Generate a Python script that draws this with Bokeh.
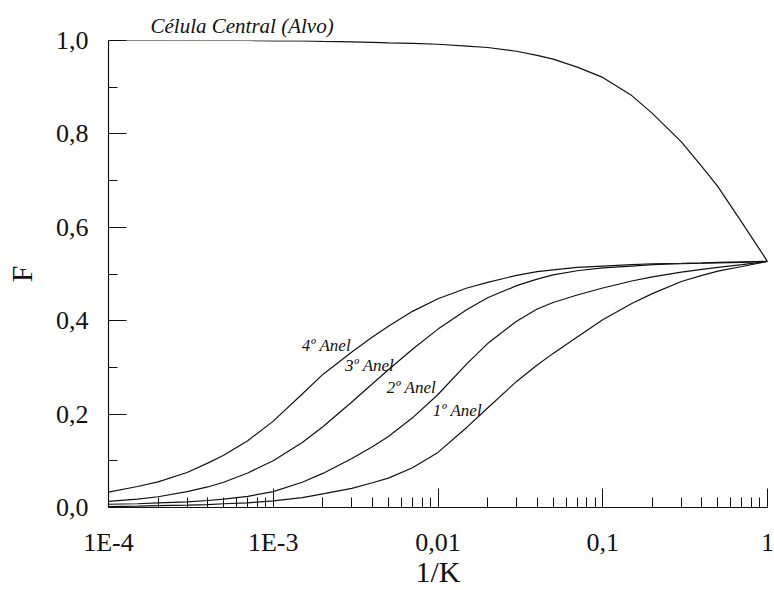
from bokeh.plotting import figure
from bokeh.models import FixedTicker, CustomJSTickFormatter, ColumnDataSource
from bokeh.core.properties import value
from bokeh.embed import file_html
from bokeh.resources import INLINE

# ---- data ----
inv_k = [1e-4, 1.5e-4, 2e-4, 3e-4, 4e-4, 5e-4, 7e-4,
         1e-3, 1.5e-3, 2e-3, 3e-3, 4e-3, 5e-3, 7e-3,
         1e-2, 1.5e-2, 2e-2, 3e-2, 4e-2, 5e-2, 7e-2,
         0.1, 0.15, 0.2, 0.3, 0.4, 0.5, 0.7, 1.0]

f_central = [1.000, 1.000, 1.000, 1.000, 1.000, 1.000, 1.000,
             0.999, 0.999, 0.998, 0.997, 0.996, 0.995, 0.994,
             0.992, 0.988, 0.985, 0.977, 0.968, 0.960, 0.943,
             0.921, 0.882, 0.844, 0.783, 0.730, 0.687, 0.610, 0.527]

f_ring1 = [0.002, 0.003, 0.004, 0.005, 0.006, 0.008, 0.010,
           0.014, 0.021, 0.029, 0.041, 0.053, 0.063, 0.085,
           0.118, 0.172, 0.213, 0.270, 0.305, 0.330, 0.365,
           0.402, 0.437, 0.458, 0.484, 0.497, 0.506, 0.516, 0.527]

f_ring2 = [0.007, 0.008, 0.010, 0.012, 0.015, 0.018, 0.024,
           0.034, 0.054, 0.073, 0.105, 0.130, 0.152, 0.192,
           0.242, 0.308, 0.351, 0.399, 0.425, 0.439, 0.455,
           0.470, 0.485, 0.494, 0.504, 0.510, 0.514, 0.520, 0.527]

f_ring3 = [0.013, 0.018, 0.023, 0.034, 0.044, 0.054, 0.074,
           0.100, 0.139, 0.173, 0.226, 0.265, 0.295, 0.339,
           0.382, 0.424, 0.449, 0.475, 0.489, 0.498, 0.507,
           0.513, 0.517, 0.520, 0.522, 0.523, 0.524, 0.525, 0.527]

f_ring4 = [0.033, 0.045, 0.055, 0.075, 0.095, 0.112, 0.143,
           0.185, 0.243, 0.285, 0.333, 0.365, 0.388, 0.420,
           0.447, 0.470, 0.482, 0.497, 0.505, 0.509, 0.514,
           0.517, 0.520, 0.522, 0.523, 0.524, 0.525, 0.526, 0.527]

ring_labels = ["1º Anel", "2º Anel", "3º Anel", "4º Anel"]
ring_label_x = [0.0131, 0.0069, 0.00384, 0.0021]
ring_label_y = [0.207, 0.256, 0.305, 0.346]

central_label = "Célula Central (Alvo)"

x_ticks = [1e-4, 1e-3, 1e-2, 1e-1, 1.0]
x_tick_labels = ["1E-4", "1E-3", "0,01", "0,1", "1"]
x_minor = [m * d for d in [1e-4, 1e-3, 1e-2, 1e-1] for m in range(2, 10)]
y_ticks = [0.0, 0.2, 0.4, 0.6, 0.8, 1.0]
y_minor = [0.1, 0.3, 0.5, 0.7, 0.9]

FONT = "Liberation Serif"
INK = "#111111"

p = figure(width=774, height=590, x_axis_type="log",
           x_range=(1e-4, 1.0), y_range=(0.0, 1.0),
           output_backend="svg", toolbar_location=None,
           min_border_left=108, min_border_right=7,
           min_border_top=40, min_border_bottom=80)
p.outline_line_color = None
p.xgrid.visible = False
p.ygrid.visible = False
p.background_fill_color = "white"
p.border_fill_color = "white"

# title used as the in-figure caption of the central-cell curve
p.title.text = central_label
p.title.align = "left"
p.title.offset = 42
p.title.standoff = 6
p.title.text_font = FONT
p.title.text_font_style = "italic"
p.title.text_font_size = "21px"
p.title.text_color = INK

src = ColumnDataSource(dict(x=inv_k, c=f_central, r1=f_ring1, r2=f_ring2,
                            r3=f_ring3, r4=f_ring4))
for col in ["c", "r1", "r2", "r3", "r4"]:
    p.line("x", col, source=src, line_color=INK, line_width=1.2)

lab_src = ColumnDataSource(dict(x=ring_label_x, y=ring_label_y, t=ring_labels))
p.text("x", "y", text="t", source=lab_src, text_font=value(FONT),
       text_font_style="italic", text_font_size="17px", text_color=INK,
       text_align="center", text_baseline="middle")

# x axis
xa = p.xaxis[0]
xa.ticker = FixedTicker(ticks=x_ticks, minor_ticks=x_minor)
xa.formatter = CustomJSTickFormatter(args=dict(xt=x_ticks, xl=x_tick_labels), code="""
for (let i = 0; i < xt.length; i++) {
  if (Math.abs(Math.log10(xt[i]) - Math.log10(tick)) < 1e-6) return xl[i];
}
return '';
""")
xa.axis_label = "1/K"

# y axis
ya = p.yaxis[0]
ya.ticker = FixedTicker(ticks=y_ticks, minor_ticks=y_minor)
ya.formatter = CustomJSTickFormatter(code="return tick.toFixed(1).replace('.', ',');")
ya.axis_label = "F"

for ax in (xa, ya):
    ax.axis_line_color = INK
    ax.axis_line_width = 1.2
    ax.major_tick_line_color = INK
    ax.minor_tick_line_color = INK
    ax.major_tick_out = 0
    ax.minor_tick_out = 0
    ax.major_label_text_font = FONT
    ax.major_label_text_font_size = "26px"
    ax.major_label_text_color = INK
    ax.axis_label_text_font = FONT
    ax.axis_label_text_font_style = "normal"
    ax.axis_label_text_font_size = "30px"
    ax.axis_label_text_color = INK

xa.major_tick_in = 19
xa.minor_tick_in = 10
xa.major_label_standoff = 20
xa.axis_label_standoff = -5
ya.major_tick_in = 18
ya.minor_tick_in = 9
ya.major_label_standoff = 20
ya.axis_label_standoff = 15

open("out.html", "w").write(file_html(p, INLINE))
